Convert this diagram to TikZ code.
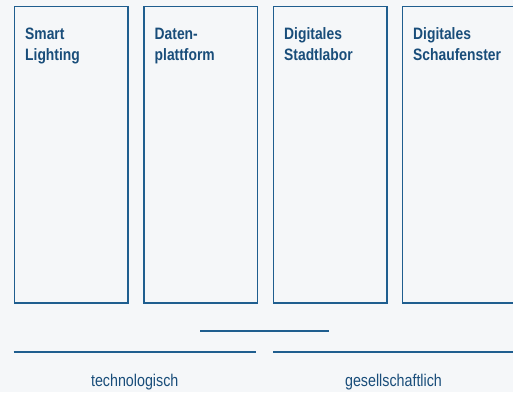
\documentclass[tikz,border=0pt]{standalone}
\usepackage{fontspec}
\setmainfont{Liberation Sans}[FakeStretch=0.84]
\usetikzlibrary{positioning}
\usepackage{xcolor}
\definecolor{bgray}{HTML}{F5F7F9}
\definecolor{sblue}{HTML}{1F5E8F}
\definecolor{tblue}{HTML}{194D7A}

\begin{document}
\begin{tikzpicture}[x=1pt,y=-1pt,
    pillar/.style={draw=sblue,line width=1.6pt,rectangle,anchor=north west,
        minimum width=113.5pt,minimum height=296.5pt,inner sep=0pt},
    pillartext/.style={anchor=base west,align=left,inner sep=0pt,text=tblue,
        font=\fontsize{16.5}{21}\selectfont\bfseries},
    axistext/.style={anchor=base,inner sep=0pt,text=tblue,
        font=\fontsize{17}{20}\selectfont},
    rule/.style={draw=sblue,line width=1.6pt}]
            \clip (0,0) rectangle (513,392);
            \fill [bgray] (0,0) rectangle (513,392);

            \node [pillar] (light) at (13.5,5.5) {};
            \node [pillar] (data) at (143,5.5) {};
            \node [pillar] (lab) at (272.5,5.5) {};
            \node [pillar,minimum width=130pt] (shop) at (401.5,5.5) {};

            % base anchor sits on the second line
            \node [pillartext] (lightT) at (25,60) {Smart\\Lighting};
            \node [pillartext] (dataT) at (154.5,60) {Daten-\\plattform};
            \node [pillartext] (labT) at (284,60) {Digitales\\Stadtlabor};
            \node [pillartext] (shopT) at (413,60) {Digitales\\Schaufenster};

            \draw [rule] (200,330.7) -- (329,330.7);
            \draw [rule] (13.5,352) -- (256,352);
            \draw [rule] (273,352) -- (520,352);

            \node [axistext] (tech) at (134.7,386.3) {technologisch};
            \node [axistext] (soc) at (393.5,386.7) {gesellschaftlich};
        \end{tikzpicture}
\end{document}
